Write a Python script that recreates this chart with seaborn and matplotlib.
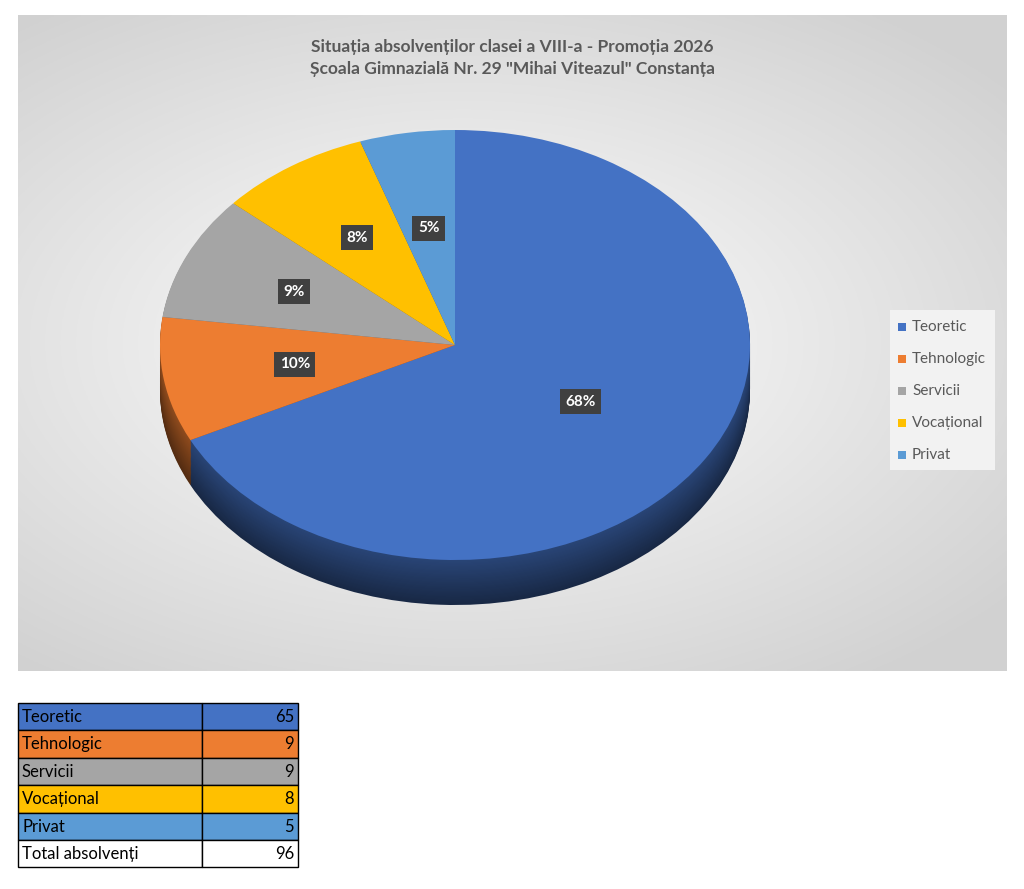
import numpy as np
import matplotlib
matplotlib.use("Agg")
import matplotlib.pyplot as plt
import seaborn as sns
from matplotlib.patches import Rectangle
import matplotlib.colors as mc

sns.set_theme(style="white")
plt.rcParams['font.family'] = ['Lato', 'DejaVu Sans']

categories = ["Teoretic", "Tehnologic", "Servicii", "Vocațional", "Privat"]
values = [65, 9, 9, 8, 5]
pie_labels = ["68%", "10%", "9%", "8%", "5%"]
total_label = "Total absolvenți"
colors = ["#4472C4", "#ED7D31", "#A5A5A5", "#FFC000", "#5B9BD5"]
title = 'Situația absolvenților clasei a VIII-a - Promoția 2026\nȘcoala Gimnazială Nr. 29 "Mihai Viteazul" Constanța'

W, H = 1024, 889
fig = plt.figure(figsize=(W/100, H/100), dpi=100)
fig.patch.set_facecolor("white")

def px_axes(l, t, w, h, **kw):
    return fig.add_axes([l/W, 1-(t+h)/H, w/W, h/H], **kw)

# background gradient chart area
bg = px_axes(18, 15, 989, 656)
yy, xx = np.mgrid[0:1:300j, 0:1:450j]
r = np.sqrt(((xx-0.45)/0.8)**2 + ((yy-0.5)/0.7)**2)
g = np.clip(1 - 0.2*r, 0.82, 1)
bg.imshow(np.dstack([g, g, g]), extent=[0, 1, 0, 1], aspect='auto')
bg.set_axis_off()

# pie
l, t, w, h = 150, 120, 610, 540
cx, cy, rx, ry = 455, 345, 295, 215
ax = px_axes(l, t, w, h)
depth = 45/ry
for i, d in enumerate(np.linspace(depth, 0.005, 40)):
    f = 0.35 + 0.25*(i/39)
    cols = [tuple(np.array(mc.to_rgb(c))*f) for c in colors]
    ax.pie(values, colors=cols, startangle=90, counterclock=False, center=(0, -d),
           radius=1, frame=True, wedgeprops=dict(linewidth=0))
ax.pie(values, colors=colors, startangle=90, counterclock=False, center=(0, 0),
       radius=1, frame=True, wedgeprops=dict(linewidth=0))
ax.set_aspect('auto')
ax.set_xlim(-(cx-l)/rx, (l+w-cx)/rx)
ax.set_ylim(-(t+h-cy)/ry, (cy-t)/ry)
ax.set_axis_off()
tot = sum(values)
ang = 90
dists = [0.5, 0.55, 0.6, 0.6, 0.55]
for v, lab, dd in zip(values, pie_labels, dists):
    a = np.deg2rad(ang - v/tot*180)
    ang -= v/tot*360
    ax.text(dd*np.cos(a), dd*np.sin(a), lab, ha='center', va='center', color='white',
            fontsize=11, fontweight='bold',
            bbox=dict(boxstyle='square,pad=0.35', fc='#404040', ec='none'))

fig.text(512/W, 1-58/H, title, ha='center', va='center', fontsize=12.5,
         fontweight='bold', color='#595959', linespacing=1.5)

# legend
lg = px_axes(890, 310, 105, 160)
lg.set_xlim(0, 105); lg.set_ylim(160, 0); lg.set_axis_off()
lg.add_patch(Rectangle((0, 0), 105, 160, fc='#F2F2F2', ec='none'))
for i, (c, n) in enumerate(zip(categories, colors)):
    y = 17 + i*32
    lg.add_patch(Rectangle((8, y-4), 8, 8, fc=n, ec='none'))
    lg.text(22, y, c, va='center', fontsize=11, color='#595959')

# table
tb = px_axes(16, 700, 286, 170)
tb.set_xlim(16, 302); tb.set_ylim(870, 700); tb.set_axis_off()
rows = list(zip(categories, values, colors)) + [(total_label, tot, "white")]
for i, (n, v, c) in enumerate(rows):
    y0 = 703 + i*27.4
    for x0, x1 in [(18, 202), (202, 298)]:
        tb.add_patch(Rectangle((x0, y0), x1-x0, 27.4, fc=c, ec='black', lw=1))
    tb.text(22, y0+14, n, va='center', fontsize=12, color='black')
    tb.text(294, y0+14, str(v), va='center', ha='right', fontsize=12, color='black')

fig.savefig("out.png", dpi=100)
